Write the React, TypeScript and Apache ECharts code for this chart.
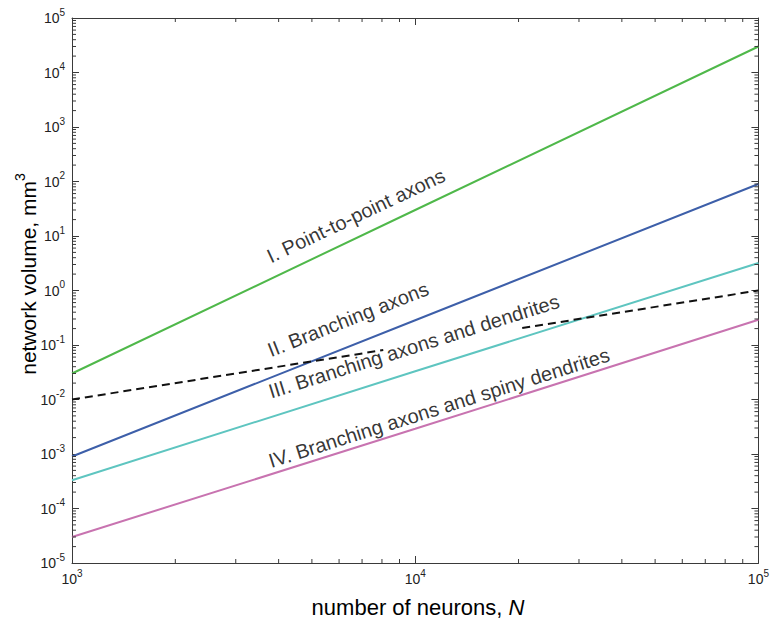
import React, { useEffect, useRef } from "react";
import * as echarts from "echarts";

// ---- data ----
const neurons = [1e3, 1e4, 1e5];
const pointToPointAxons = [0.03, 30, 3e4];
const branchingAxons = [9e-4, 0.285, 90];
const branchingAxonsDendrites = [3.3e-4, 0.033, 3.2];
const branchingAxonsSpiny = [3e-5, 0.0029, 0.29];
const dashedLeftX = [1e3, 8.07e3];
const dashedLeftY = [0.01, 0.0807];
const dashedRightX = [2.05e4, 1e5];
const dashedRightY = [0.205, 1];

const labelTexts = [
  "I. Point-to-point axons",
  "II. Branching axons",
  "III. Branching axons and dendrites",
  "IV. Branching axons and spiny dendrites",
];
const labelX = [3.83e3, 3.83e3, 3.83e3, 3.83e3];
const labelY = [2.8, 0.053, 0.0092, 4.9e-4];
const labelAngles = [25.3, 21.6, 17.5, 17.5];

const xMin = 1e3;
const xMax = 1e5;
const yMin = 1e-5;
const yMax = 1e5;
const minorMultipliers = [2, 3, 4, 5, 6, 7, 8, 9];
const xDecades = [1e3, 1e4];
const yDecades = [1e-5, 1e-4, 1e-3, 1e-2, 1e-1, 1, 10, 100, 1e3, 1e4];

const FONT = "'Liberation Sans', Arial, Helvetica, sans-serif";
const AXIS_COLOR = "#3a3a3a";

const pairs = (xs: number[], ys: number[]) => xs.map((x, i) => [x, ys[i]]);

export default function App() {
  const ref = useRef<HTMLDivElement>(null);
  useEffect(() => {
    if (!ref.current) return;
    const chart = echarts.init(ref.current, undefined, { renderer: "svg" });
    const minorX: number[] = [];
    xDecades.forEach((d) => minorMultipliers.forEach((m) => minorX.push(d * m)));
    const minorY: number[] = [];
    yDecades.forEach((d) => minorMultipliers.forEach((m) => minorY.push(d * m)));

    const labelRich = {
      b: { fontSize: 14, lineHeight: 22, fontFamily: FONT, color: "#222" },
      s: { fontSize: 10, lineHeight: 22, verticalAlign: "top", fontFamily: FONT, color: "#222" },
    };
    const fmt = (v: number) => `{b|10}{s|${Math.round(Math.log10(v))}}`;

    const baseX = {
      type: "log",
      logBase: 10,
      min: xMin,
      max: xMax,
      interval: 1,
      splitLine: { show: false },
      axisLine: { show: true, onZero: false, lineStyle: { color: AXIS_COLOR, width: 1 } },
      axisTick: { show: true, inside: true, length: 7, lineStyle: { color: AXIS_COLOR } },
    };
    const baseY = {
      type: "log",
      logBase: 10,
      min: yMin,
      max: yMax,
      interval: 1,
      splitLine: { show: false },
      axisLine: { show: true, onZero: false, lineStyle: { color: AXIS_COLOR, width: 1 } },
      axisTick: { show: true, inside: true, length: 7, lineStyle: { color: AXIS_COLOR } },
    };

    const lineSeries = (name: string, ys: number[], color: string) => ({
      type: "line",
      name,
      data: pairs(neurons, ys),
      showSymbol: false,
      symbol: "none",
      lineStyle: { color, width: 2 },
      z: 3,
    });

    chart.setOption({
      animation: false,
      backgroundColor: "#fff",
      grid: { left: 72, right: 10, top: 18, bottom: 58, containLabel: false },
      xAxis: [
        {
          ...baseX,
          position: "bottom",
          axisLabel: {
            show: true,
            margin: 5,
            fontSize: 14,
            fontFamily: FONT,
            formatter: fmt,
            rich: labelRich,
            showMinLabel: true,
            showMaxLabel: true,
          },
        },
        { ...baseX, position: "top", axisLabel: { show: false } },
      ],
      yAxis: [
        {
          ...baseY,
          position: "left",
          axisLabel: {
            show: true,
            margin: 7,
            fontSize: 14,
            fontFamily: FONT,
            formatter: fmt,
            rich: labelRich,
            showMinLabel: true,
            showMaxLabel: true,
          },
        },
        { ...baseY, position: "right", axisLabel: { show: false } },
      ],
      series: [
        lineSeries("I", pointToPointAxons, "#4fb84a"),
        lineSeries("II", branchingAxons, "#3d5fa9"),
        lineSeries("III", branchingAxonsDendrites, "#5ec5c0"),
        lineSeries("IV", branchingAxonsSpiny, "#c873b0"),
        {
          type: "line",
          data: pairs(dashedLeftX, dashedLeftY),
          symbol: "none",
          lineStyle: { color: "#111", width: 2, type: [8, 5] },
          z: 4,
        },
        {
          type: "line",
          data: pairs(dashedRightX, dashedRightY),
          symbol: "none",
          lineStyle: { color: "#111", width: 2, type: [8, 5] },
          z: 4,
        },
        {
          type: "scatter",
          symbolSize: 0,
          silent: true,
          z: 6,
          data: labelTexts.map((t, i) => ({
            value: [labelX[i], labelY[i]],
            name: t,
            label: { rotate: labelAngles[i] },
          })),
          label: {
            show: true,
            position: [0, 0],
            align: "left",
            verticalAlign: "bottom",
            formatter: (p: any) => p.name,
            fontSize: 20,
            fontFamily: FONT,
            color: "#000",
          },
        },
        {
          type: "custom",
          silent: true,
          clip: false,
          z: 5,
          encode: { x: 0, y: 1 },
          data: [[1e4, 1]],
          renderItem: (params: any, api: any) => {
            const cs = params.coordSys;
            const top = cs.y;
            const bottom = cs.y + cs.height;
            const left = cs.x;
            const right = cs.x + cs.width;
            const children: any[] = [];
            const ln = (x1: number, y1: number, x2: number, y2: number) => ({
              type: "line",
              shape: { x1, y1, x2, y2 },
              style: { stroke: AXIS_COLOR, lineWidth: 1 },
            });
            minorX.forEach((v) => {
              const px = api.coord([v, 1])[0];
              children.push(ln(px, bottom, px, bottom - 4));
              children.push(ln(px, top, px, top + 4));
            });
            minorY.forEach((v) => {
              const py = api.coord([1e4, v])[1];
              children.push(ln(left, py, left + 4, py));
              children.push(ln(right, py, right - 4, py));
            });
            return { type: "group", children };
          },
        },
      ],
      graphic: [
        {
          type: "text",
          x: 418,
          y: 607,
          style: {
            text: "{t|number of neurons, }{i|N}",
            align: "center",
            verticalAlign: "middle",
            rich: {
              t: { fontSize: 22, fontFamily: FONT, fill: "#000" },
              i: { fontSize: 22, fontFamily: FONT, fontStyle: "italic", fill: "#000" },
            },
          },
        },
        {
          type: "text",
          x: 28,
          y: 274,
          rotation: Math.PI / 2,
          style: {
            text: "{t|network volume, mm}{s|3}",
            align: "center",
            verticalAlign: "middle",
            rich: {
              t: { fontSize: 21, lineHeight: 30, fontFamily: FONT, fill: "#000" },
              s: { fontSize: 14, lineHeight: 30, verticalAlign: "top", fontFamily: FONT, fill: "#000" },
            },
          },
        },
      ],
    });
    return () => chart.dispose();
  }, []);
  return (
    <div
      ref={ref}
      style={{ position: "fixed", left: 0, top: 0, width: 772, height: 621, background: "#fff" }}
    />
  );
}
